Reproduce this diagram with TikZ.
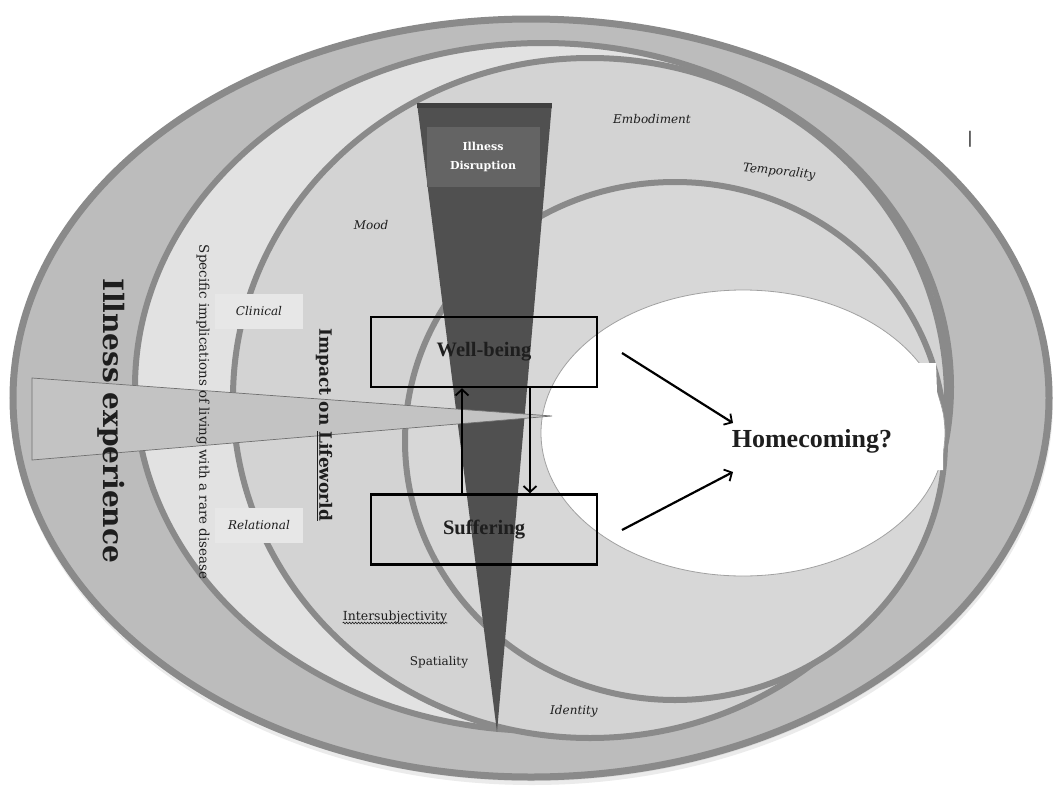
\documentclass[tikz,border=0pt]{standalone}
\usepackage{fontspec}
\setmainfont{DejaVu Serif}
\newfontfamily\timesf{Liberation Serif}
\newfontfamily\sansf{DejaVu Sans}
\usetikzlibrary{arrows.meta,decorations.pathmorphing}
\definecolor{ringline}{HTML}{8A8A8A}
\definecolor{bandA}{HTML}{BCBCBC}
\definecolor{bandB}{HTML}{E2E2E2}
\definecolor{bandC}{HTML}{D3D3D3}
\definecolor{bandD}{HTML}{D7D7D7}
\definecolor{darktri}{HTML}{505050}
\definecolor{disbox}{HTML}{646464}
\definecolor{wedgefill}{HTML}{C3C3C3}
\definecolor{wedgeline}{HTML}{707070}
\definecolor{lblbox}{HTML}{E7E7E7}
\definecolor{txt}{HTML}{1E1E1E}
\begin{document}
\begin{tikzpicture}[x=1pt,y=-1pt,
  ring/.style={draw=ringline, line width=6pt},
  smallit/.style={font=\fontsize{12}{14}\selectfont\itshape, text=txt, inner sep=0pt},
  smallrm/.style={font=\fontsize{12}{14}\selectfont, text=txt, inner sep=0pt},
  statebox/.style={draw=black, line width=2.5pt, minimum width=226, minimum height=70, inner sep=0pt,
    font=\timesf\bfseries\fontsize{20.5}{24}\selectfont, text=txt},
  tagbox/.style={fill=lblbox, minimum width=88, minimum height=35, inner sep=0pt,
    font=\fontsize{12}{14}\selectfont\itshape, text=txt},
  arr/.style={line width=2.2pt, -{Straight Barb[length=6pt,width=13pt,line width=1.8pt]}},
  vert/.style={rotate=-90, inner sep=0pt, text=txt}
]
\useasboundingbox (0,0) rectangle (1053,790);
\fill[white] (0,0) rectangle (1053,790);

% soft shadow of the outer ring
\fill[black!8] (532,402) ellipse [x radius=521, y radius=383];
\fill[black!14] (532,400) ellipse [x radius=520, y radius=381];

% nested rings
\filldraw[ring, line width=7pt, fill=bandA] (531,398) ellipse [x radius=518, y radius=379];
\filldraw[ring, fill=bandB] (543,387) ellipse [x radius=408, y radius=344];
\filldraw[ring, fill=bandC] (590,398) ellipse [x radius=357, y radius=340];
\filldraw[ring, fill=bandD] (675,441) ellipse [x radius=270, y radius=259];
\filldraw[draw=ringline!80, line width=0.8pt, fill=white] (743,433) ellipse [x radius=202, y radius=143];
\fill[white] (912,363) -- (936,363) -- (937,392) -- (943,415) -- (943,470) -- (880,470) -- cycle;

% illness disruption wedge
\fill[darktri] (417,103) -- (552,103) -- (497,732) -- cycle;
\fill[black!75] (417,103) rectangle (552,108);
\node[fill=disbox, minimum width=113, minimum height=60, inner sep=0pt, align=center,
  text=white, font=\bfseries\fontsize{11}{19}\selectfont] (dis) at (483,157) {Illness\\Disruption};

% horizontal wedge
\filldraw[fill=wedgefill, draw=wedgeline, line width=0.7pt] (32,378) -- (552,416) -- (32,460) -- cycle;

% vertical texts
\node[vert, font=\bfseries\fontsize{28}{32}\selectfont] (ie) at (111,421) {Illness experience};
\node[vert, font=\fontsize{13.4}{16}\selectfont] (spec) at (203,412) {Specific implications of living with a rare disease};
\node[vert, font=\bfseries\fontsize{17}{20}\selectfont] (imp) at (324,425) {Impact on \underline{Lifeworld}};

% tag boxes
\node[tagbox] (clin) at (259,311) {Clinical};
\node[tagbox] (rel) at (259,525) {Relational};

% small labels
\node[smallit, anchor=base] (mood) at (371,229) {Mood};
\node[smallit, anchor=base] (emb) at (652,123) {Embodiment};
\node[smallit, rotate=-6] (temp) at (779,172) {Temporality};
\node[smallrm, anchor=base, font=\fontsize{12.5}{14}\selectfont] (inter) at (395,620) {Intersubjectivity};
\draw[txt, line width=0.6pt, decorate, decoration={snake, amplitude=0.9pt, segment length=3pt}]
  ([yshift=-3pt]inter.base west) -- ([yshift=-3pt]inter.base east);
\node[smallrm, anchor=base] (spat) at (439,665) {Spatiality};
\node[smallit, anchor=base] (ident) at (574,714) {Identity};
\node[font=\sansf\fontsize{16}{18}\selectfont, text=txt, inner sep=0pt] (bar) at (970,139) {\textbar};

% state boxes
\node[statebox] (wb) at (484,352) {Well-being};
\node[statebox] (suf) at (484,529.5) {Suffering};
\coordinate (upx) at (462,0);
\coordinate (dnx) at (530,0);
\draw[arr] (suf.north -| upx) -- (wb.south -| upx);
\draw[arr] (wb.south -| dnx) -- (suf.north -| dnx);

% homecoming
\node[font=\timesf\bfseries\fontsize{26}{30}\selectfont, text=txt, inner sep=0pt] (home) at (812,441) {Homecoming?};
\coordinate (a1s) at (622,353);
\coordinate (a1e) at (733,423);
\coordinate (a2s) at (622,530);
\coordinate (a2e) at (733,472);
\draw[arr] (a1s) -- (a1e);
\draw[arr] (a2s) -- (a2e);
\end{tikzpicture}
\end{document}
